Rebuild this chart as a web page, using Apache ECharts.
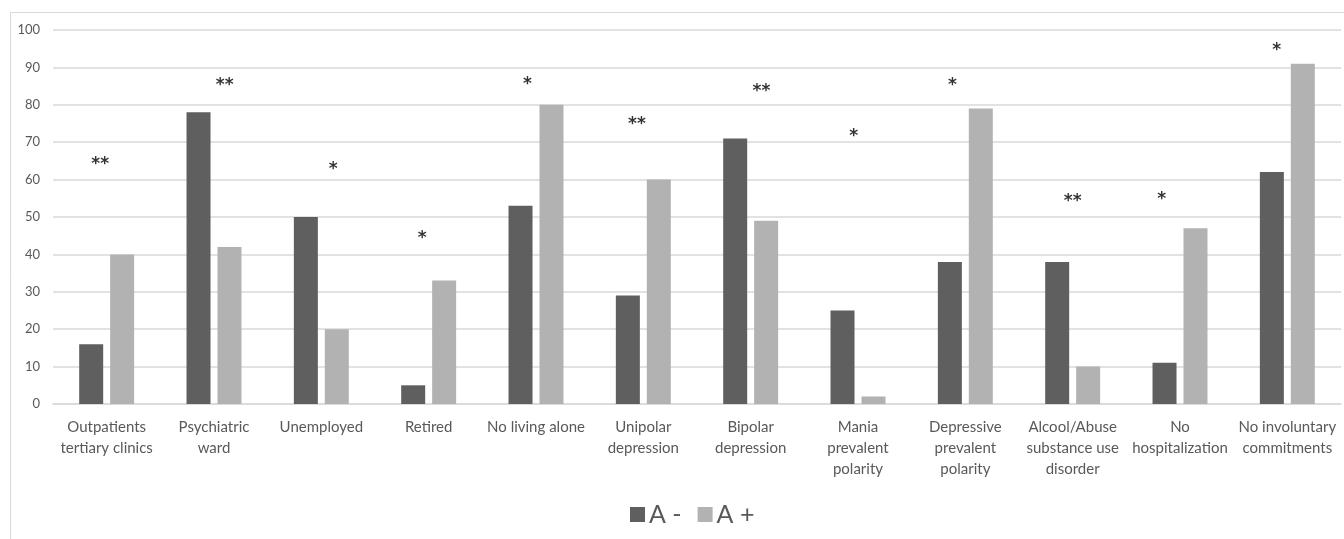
<!DOCTYPE html>
<html><head><meta charset="utf-8">
<script src="https://cdn.jsdelivr.net/npm/echarts@6/dist/echarts.min.js"></script>
<style>html,body{margin:0;padding:0;background:#fff}#c{width:1344px;height:539px}</style>
</head><body><div id="c"></div>
<script>
const categories = ["Outpatients\ntertiary clinics","Psychiatric\nward","Unemployed","Retired","No living alone","Unipolar\ndepression","Bipolar\ndepression","Mania\nprevalent\npolarity","Depressive\nprevalent\npolarity","Alcool/Abuse\nsubstance use\ndisorder","No\nhospitalization","No involuntary\ncommitments"];
const aMinus = [16,78,50,5,53,29,71,25,38,38,11,62];
const aPlus  = [40,42,20,33,80,60,49,2,79,10,47,91];
// significance markers: text, category position, value height
const starText = ["**","**","*","*","*","**","**","*","*","**","*","*"];
const starCat  = [-0.06,1.10,2.11,2.94,3.92,4.94,6.10,6.96,7.88,9.0,9.83,10.90];
const starVal  = [65,86.2,63.7,45.4,86.5,75.8,84.7,72.7,86.2,55.3,55.6,95.6];
const yTicks = {min:0,max:100,interval:10};

const font = 'Lato, "Open Sans", sans-serif';
const chart = echarts.init(document.getElementById('c'));
chart.setOption({
  animation:false,
  graphic:[{type:'rect',shape:{x:10.5,y:12.5,width:1400,height:600},style:{fill:'none',stroke:'#d9d9d9',lineWidth:1}}],
  grid:{left:53,right:3,top:30,bottom:135},
  legend:{left:625,top:497,itemWidth:15,itemHeight:15,itemGap:16,icon:'rect',
    textStyle:{fontFamily:font,fontSize:25,color:'#595959',padding:[0,0,0,-1]},
    data:['A -','A +']},
  xAxis:[{type:'category',data:categories,axisTick:{show:false},
    axisLine:{lineStyle:{color:'#d9d9d9',width:1.5}},
    axisLabel:{interval:0,fontFamily:font,fontSize:15,color:'#595959',lineHeight:21,margin:13}},
    {type:'value',min:-0.5,max:11.5,show:false}],
  yAxis:{type:'value',min:yTicks.min,max:yTicks.max,interval:yTicks.interval,
    axisLine:{show:false},axisTick:{show:false},
    splitLine:{lineStyle:{color:'#d9d9d9',width:1.5}},
    axisLabel:{fontFamily:font,fontSize:13,color:'#595959',margin:13}},
  series:[
    {name:'A -',type:'bar',data:aMinus,barWidth:24,barGap:'29%',itemStyle:{color:'#5f5f5f'}},
    {name:'A +',type:'bar',data:aPlus,barWidth:24,itemStyle:{color:'#b2b2b2'}},
    {type:'scatter',xAxisIndex:1,symbol:'circle',symbolSize:2,silent:true,z:5,
      itemStyle:{color:'rgba(0,0,0,0)'},
      data:starVal.map((v,i)=>({value:[starCat[i],v],label:{formatter:starText[i]}})),
      label:{show:true,position:'inside',fontFamily:'"DejaVu Sans", sans-serif',fontSize:17,fontWeight:'bold',color:'#000',offset:[0,4]}}
  ]
});
</script></body></html>
